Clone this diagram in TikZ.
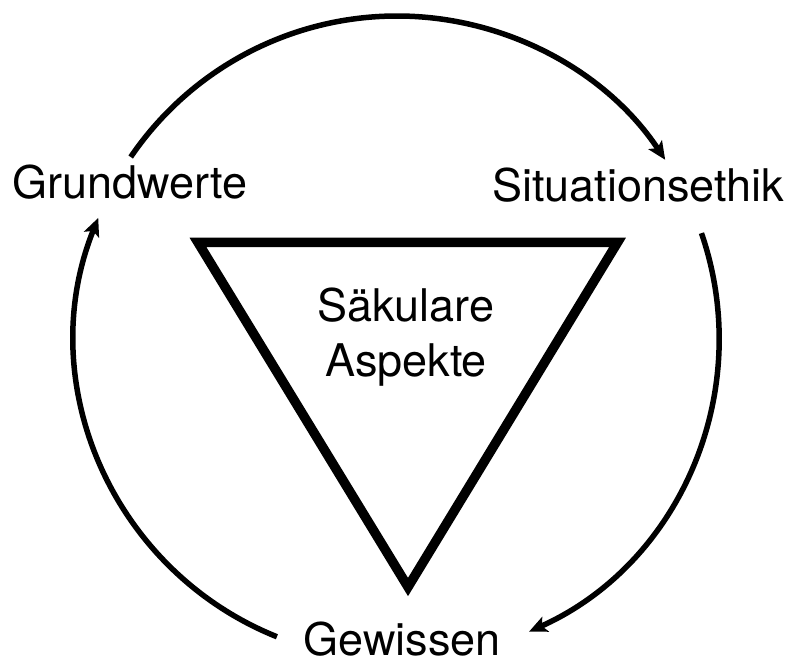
\documentclass[tikz,border=0pt]{standalone}
\usepackage{fontspec}
\setmainfont{TeX Gyre Heros}
\usetikzlibrary{arrows.meta}

\begin{document}
\begin{tikzpicture}[
  x=1pt, y=1pt,
  lbl/.style={font=\fontsize{45}{55}\selectfont, inner sep=0pt, anchor=base},
  arr/.style={-{Stealth[length=18pt, width=16pt, inset=4pt]}, line width=5.5pt},
  tri/.style={line width=9.5pt, line join=miter}
]
  \useasboundingbox (0,0) rectangle (791,660);
  \coordinate (mid) at (397,322);

  \node[lbl] (grund) at (130,461) {Grundwerte};
  \node[lbl] (sit)   at (638,458) {Situationsethik};
  \node[lbl] (gew)   at (402,5)   {Gewissen};

  \draw[tri] (198,417.5) -- (617.5,417.5) -- (408,73) -- cycle;
  \node[lbl, align=center] (sak) at (406,283) {Säkulare\\Aspekte};

  % cycle between the three labels
  \draw[arr] ([shift={(145.8:322pt)}]mid) arc[start angle=145.8, end angle=33.6, radius=322pt];
  \draw[arr] ([shift={(19:322pt)}]mid)    arc[start angle=19, end angle=-65.8, radius=322pt];
  \draw[arr] ([shift={(248.1:322pt)}]mid) arc[start angle=248.1, end angle=158.1, radius=322pt];
\end{tikzpicture}
\end{document}
